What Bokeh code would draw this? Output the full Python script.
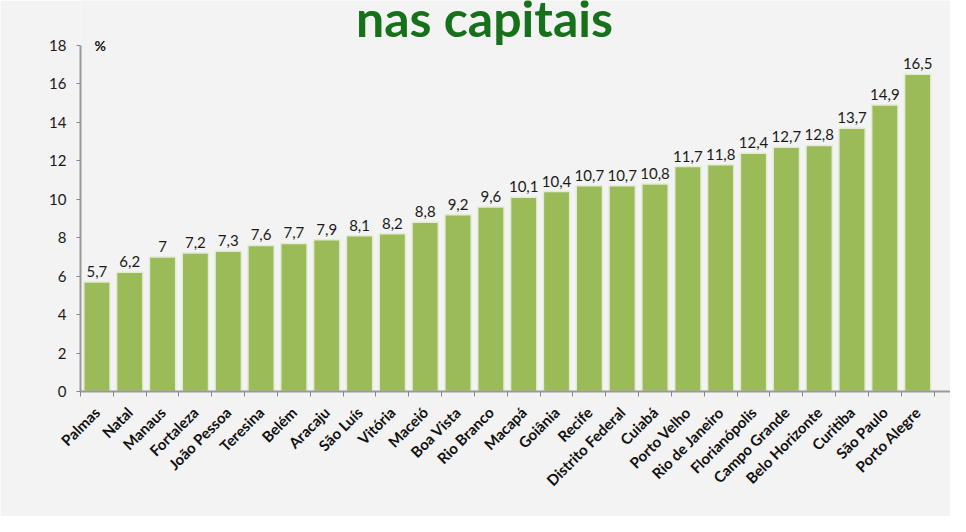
import math
from bokeh.plotting import figure
from bokeh.models import ColumnDataSource, Range1d, FixedTicker, Label
from bokeh.core.properties import value
from bokeh.embed import file_html
from bokeh.resources import INLINE

# Dados
capitais = ["Palmas", "Natal", "Manaus", "Fortaleza", "João Pessoa", "Teresina", "Belém",
            "Aracaju", "São Luís", "Vitória", "Maceió", "Boa Vista", "Rio Branco", "Macapá",
            "Goiânia", "Recife", "Distrito Federal", "Cuiabá", "Porto Velho", "Rio de Janeiro",
            "Florianópolis", "Campo Grande", "Belo Horizonte", "Curitiba", "São Paulo", "Porto Alegre"]
valores = [5.7, 6.2, 7.0, 7.2, 7.3, 7.6, 7.7, 7.9, 8.1, 8.2, 8.8, 9.2, 9.6, 10.1,
           10.4, 10.7, 10.7, 10.8, 11.7, 11.8, 12.4, 12.7, 12.8, 13.7, 14.9, 16.5]
y_ticks = [0, 2, 4, 6, 8, 10, 12, 14, 16, 18]

FONT = "Lato"
BG = "#f3f3f3"

idx = list(range(len(capitais)))
rotulos = [("%g" % v).replace(".", ",") for v in valores]
source = ColumnDataSource(dict(x=idx, y=valores, label=rotulos))

# o quadro vai até o topo, para o título ficar cortado como no original
p = figure(width=950, height=516, output_backend="svg", toolbar_location=None,
           x_range=Range1d(-0.5, 26.0), y_range=Range1d(0, 20.34),
           min_border_left=80, min_border_right=0, min_border_top=0, min_border_bottom=125)
p.background_fill_color = BG
p.border_fill_color = BG
p.outline_line_color = None
p.grid.grid_line_color = None

p.vbar(x="x", top="y", width=0.8, source=source,
       fill_color="#9bbb59", line_color="#e4ecd6", line_width=1.5)

p.text(x="x", y="y", text="label", source=source, y_offset=-5,
       text_align="center", text_baseline="bottom",
       text_font_size="15px", text_color="#1a1a1a", text_font=value(FONT))

# eixo x
p.xaxis.ticker = FixedTicker(ticks=idx, minor_ticks=[i - 0.5 for i in range(len(capitais) + 1)])
p.xaxis.major_label_overrides = {i: c for i, c in enumerate(capitais)}
p.xaxis.major_label_orientation = math.pi / 4
p.xaxis.major_label_text_font = FONT
p.xaxis.major_label_text_font_style = "bold"
p.xaxis.major_label_text_font_size = "15px"
p.xaxis.major_label_text_color = "#111111"
p.xaxis.major_tick_line_color = None
p.xaxis.minor_tick_line_color = "#888888"
p.xaxis.minor_tick_out = 5
p.xaxis.minor_tick_in = 0
p.xaxis.axis_line_color = "#999999"
p.xaxis.axis_line_width = 2
p.xaxis.major_label_standoff = 12

# eixo y
p.yaxis.ticker = FixedTicker(ticks=y_ticks)
p.yaxis.bounds = (0, 18)
p.yaxis.major_label_text_font = FONT
p.yaxis.major_label_text_font_size = "15px"
p.yaxis.major_label_text_color = "#1a1a1a"
p.yaxis.major_tick_line_color = "#888888"
p.yaxis.major_tick_out = 4
p.yaxis.major_tick_in = 0
p.yaxis.minor_tick_line_color = None
p.yaxis.axis_line_color = "#999999"
p.yaxis.axis_line_width = 2
p.yaxis.major_label_standoff = 10

p.add_layout(Label(x=14, y=18, x_units="screen", text="%", text_font=FONT,
                   text_font_style="bold", text_font_size="14px", text_color="#111111",
                   text_baseline="middle"))

# título cortado no topo
p.add_layout(Label(x=404, y=374, x_units="screen", y_units="screen", text="nas capitais",
                   text_font=FONT, text_font_style="bold", text_font_size="50px",
                   text_color="#17701a", text_align="center", text_baseline="alphabetic"))

open("out.html", "w").write(file_html(p, INLINE))
